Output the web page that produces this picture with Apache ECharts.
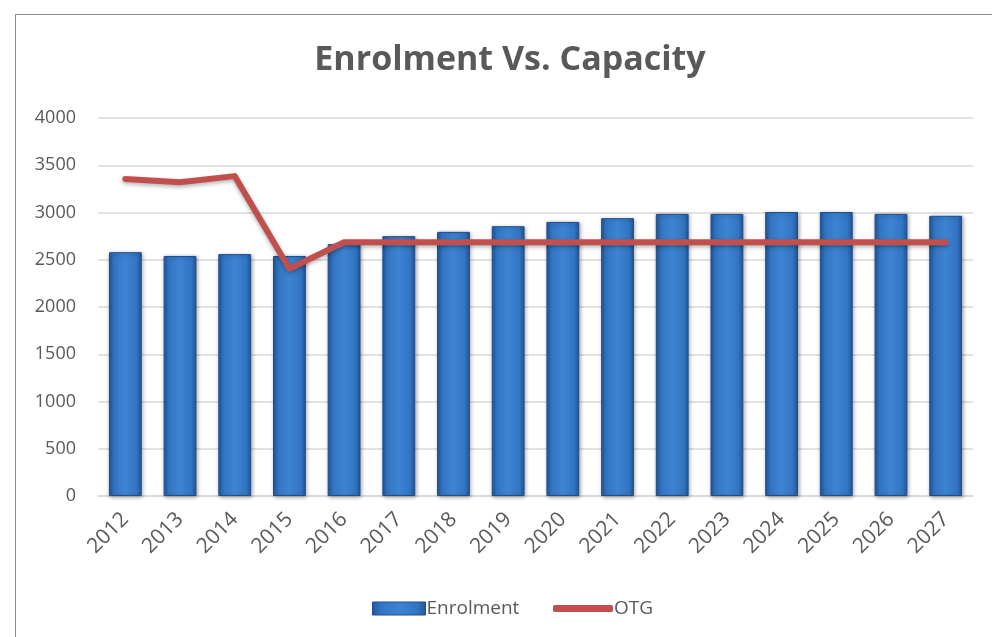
<!DOCTYPE html>
<html>
<head>
<meta charset="utf-8">
<script src="https://cdn.jsdelivr.net/npm/echarts@6/dist/echarts.min.js"></script>
<style>
  html, body { margin: 0; padding: 0; background: #fff; }
  #frame { position: absolute; left: 15px; top: 14px; width: 1000px; height: 640px;
           border: 1.5px solid #8c8c8c; box-sizing: border-box; }
  #chart { position: absolute; left: 0; top: 0; width: 992px; height: 637px; }
</style>
</head>
<body>
<div id="frame"></div>
<div id="chart"></div>
<script>
// years on the x axis
const years = ['2012', '2013', '2014', '2015', '2016', '2017', '2018', '2019',
               '2020', '2021', '2022', '2023', '2024', '2025', '2026', '2027'];
// enrolment (bars)
const enrolment = [2580, 2540, 2560, 2540, 2665, 2750, 2795, 2855,
                   2900, 2940, 2985, 2985, 3005, 3005, 2985, 2965];
// OTG capacity (line)
const otg = [3355, 3320, 3385, 2405, 2685, 2685, 2685, 2685,
             2685, 2685, 2685, 2685, 2685, 2685, 2685, 2685];

const txt = '#595959';
const font = 'Open Sans';

const barColor = new echarts.graphic.LinearGradient(0, 0, 1, 0, [
  { offset: 0,    color: '#22569a' },
  { offset: 0.15, color: '#3274c2' },
  { offset: 0.5,  color: '#3d84d3' },
  { offset: 0.85, color: '#3274c2' },
  { offset: 1,    color: '#22569a' }
]);

const chart = echarts.init(document.getElementById('chart'));
chart.setOption({
  animation: false,
  title: {
    text: 'Enrolment Vs. Capacity',
    left: 505, top: 38, textAlign: 'center',
    textStyle: { fontFamily: font, fontWeight: 'bold', fontSize: 34, color: txt }
  },
  legend: [
    {
      left: 367, top: 594, itemGap: 6,
      textStyle: { fontFamily: font, fontSize: 19, color: txt, padding: [0, 0, 0, -4] },
      data: [{ name: 'Enrolment', icon: 'rect', itemStyle: { color: barColor, borderColor: '#1f4f8a', borderWidth: 1 } }],
      itemWidth: 53, itemHeight: 13
    },
    {
      left: 548, top: 594,
      textStyle: { fontFamily: font, fontSize: 19, color: txt, padding: [0, 0, 0, -4] },
      data: [{ name: 'OTG', icon: 'roundRect' }],
      itemWidth: 60, itemHeight: 7
    }
  ],
  grid: { left: 98, right: 19, top: 118, bottom: 141, containLabel: false },
  xAxis: {
    type: 'category', data: years,
    axisTick: { show: false },
    axisLine: { lineStyle: { color: '#d9d9d9', width: 1.5 } },
    axisLabel: { rotate: 45, fontFamily: font, fontSize: 21, color: txt, margin: 20 }
  },
  yAxis: {
    type: 'value', min: 0, max: 4000, interval: 500,
    axisLine: { show: false }, axisTick: { show: false },
    axisLabel: { fontFamily: font, fontSize: 18, color: txt, margin: 22, formatter: v => String(v) },
    splitLine: { lineStyle: { color: '#d9d9d9', width: 1.5 } }
  },
  series: [
    {
      name: 'Enrolment', type: 'bar', data: enrolment,
      barCategoryGap: '40%',
      itemStyle: {
        color: barColor, borderColor: '#1f4f8a', borderWidth: 1,
        shadowColor: 'rgba(0,0,0,0.35)', shadowBlur: 4, shadowOffsetX: 1, shadowOffsetY: 1
      }
    },
    {
      name: 'OTG', type: 'line', data: otg,
      symbol: 'none',
      lineStyle: {
        color: '#c0504d', width: 6, cap: 'round', join: 'round',
        shadowColor: 'rgba(0,0,0,0.3)', shadowBlur: 4, shadowOffsetY: 2
      },
      itemStyle: { color: '#c0504d' }
    }
  ]
});
</script>
</body>
</html>
